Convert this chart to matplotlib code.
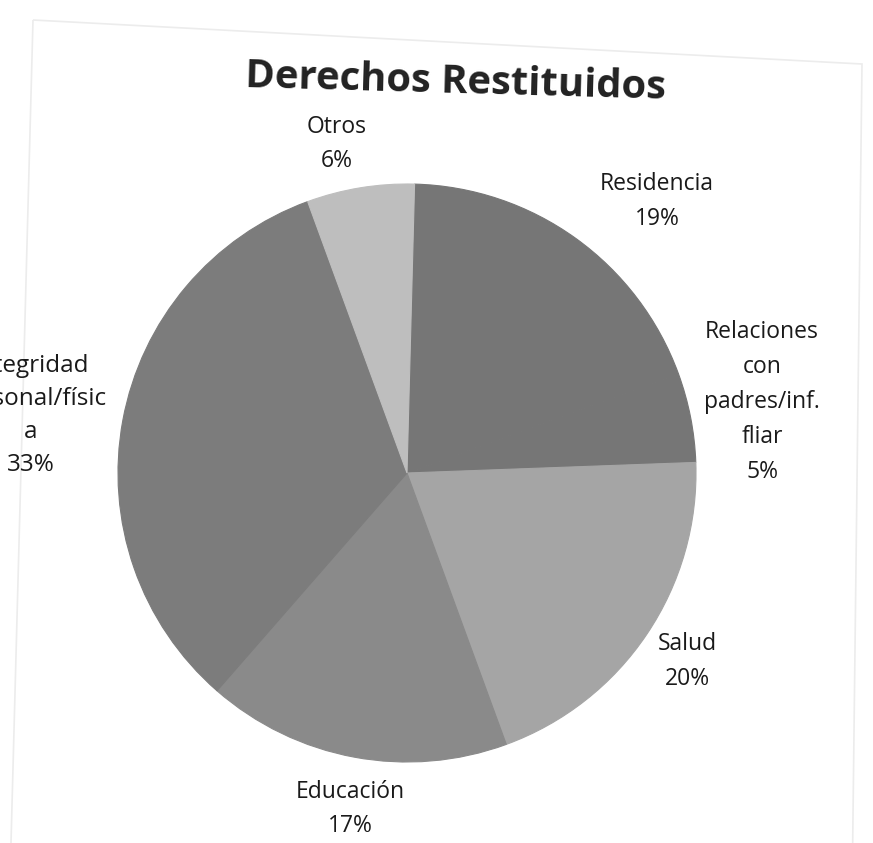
import numpy as np
import matplotlib
matplotlib.use("Agg")
import matplotlib.pyplot as plt
from matplotlib.patches import Polygon

# DATA
categorias = ["Residencia", "Relaciones\ncon\npadres/inf.\nfliar", "Salud",
              "Educación", "Integridad\npersonal/físic\na", "Otros"]
porcentajes = [19, 5, 20, 17, 33, 6]
colores = ["#767676", "#767676", "#a5a5a5", "#8a8a8a", "#7c7c7c", "#bebebe"]

# label placement (radius factor, angle tweak in degrees)
lab_dist = [1.278, 1.253, 1.17, 1.179, 1.318, 1.164]
lab_turn = [-6.9, 0.2, 0.0, 0.9, 1.8, 2.7]
lab_size = [16.5, 16.5, 16.5, 16.5, 17.5, 16.5]

W, H = 873, 843
fig = plt.figure(figsize=(W / 100, H / 100), dpi=100)
ax = fig.add_axes([0, 0, 1, 1])

# faint chart border from the scan (paper is a bit skewed)
borde = [(33, 20), (862, 64), (852, 900), (10, 880)]
ax.add_patch(Polygon([(x, H - y) for x, y in borde], closed=True, fill=False,
                     edgecolor="#ececec", lw=1.2))

cx, cy, r = 407, H - 473, 289
wedges, _ = ax.pie(porcentajes, colors=colores, startangle=88.5, counterclock=False,
                   center=(cx, cy), radius=r, frame=True,
                   wedgeprops=dict(linewidth=0.8))
for w in wedges:
    w.set_edgecolor(w.get_facecolor())

ax.set_xlim(0, W)
ax.set_ylim(0, H)
ax.set_aspect("equal")
ax.axis("off")

for w, lab, p, d, t, fs in zip(wedges, categorias, porcentajes, lab_dist, lab_turn, lab_size):
    ang = np.deg2rad((w.theta1 + w.theta2) / 2 + t)
    x = cx + r * d * np.cos(ang)
    y = cy + r * d * np.sin(ang)
    ax.text(x, y, f"{lab}\n{p}%", ha="center", va="center", fontsize=fs,
            family="Open Sans", color="#1a1a1a", linespacing=1.6 * 16.5 / fs,
            clip_on=False)

ax.text(456, H - 82, "Derechos Restituidos", ha="center", va="center",
        fontsize=28.8, fontweight="bold", family="Open Sans", color="#222222",
        rotation=-1.6, rotation_mode="anchor")

fig.savefig("out.png", dpi=100, facecolor="white")
